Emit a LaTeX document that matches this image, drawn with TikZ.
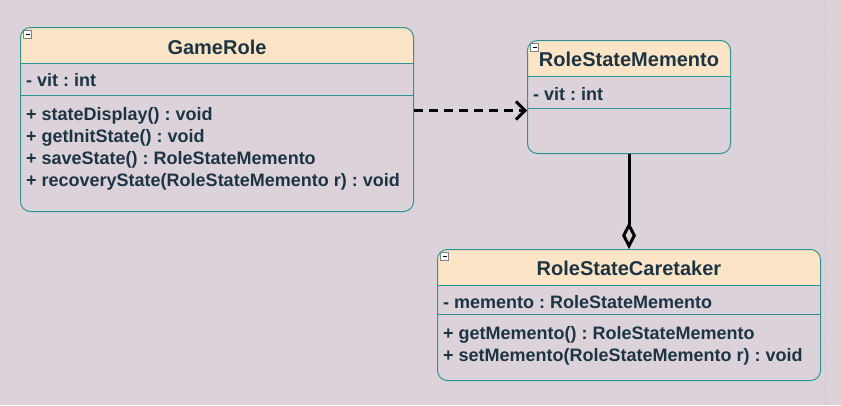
\documentclass[tikz,border=0pt]{standalone}
\usepackage{fontspec}
\setmainfont{Liberation Sans}
\usetikzlibrary{positioning,calc,arrows.meta}
\definecolor{canvas}{HTML}{DCD3DA}
\definecolor{headfill}{HTML}{FCE5C6}
\definecolor{boxline}{HTML}{2E9393}
\definecolor{ink}{HTML}{1D3443}
\frenchspacing

\tikzset{
  classbox/.style 2 args={draw=boxline, line width=1pt, rounded corners=10pt, inner sep=0pt, anchor=north west,
    path picture={
      \fill[headfill, sharp corners] (path picture bounding box.north west) rectangle ([yshift=-#1]path picture bounding box.north east);
      \draw[boxline, sharp corners] ([yshift=-#1]path picture bounding box.north west) -- ([yshift=-#1]path picture bounding box.north east);
      \draw[boxline, sharp corners] ([yshift=-#2]path picture bounding box.north west) -- ([yshift=-#2]path picture bounding box.north east);
      \draw[gray, fill=white, sharp corners, line width=0.6pt] ([xshift=3pt,yshift=-3pt]path picture bounding box.north west) rectangle +(8pt,-8pt);
      \draw[black, line width=1pt] ([xshift=5pt,yshift=-7pt]path picture bounding box.north west) -- +(4pt,0pt);
    }},
  title/.style={font=\bfseries\fontsize{20}{22}\selectfont, text=ink, inner sep=0pt},
  member/.style={font=\bfseries\fontsize{18}{22}\selectfont, text=ink, align=left, anchor=west, inner sep=0pt},
}

\begin{document}
\begin{tikzpicture}[x=1pt,y=-1pt,
    depend/.style={line width=3pt, dash pattern=on 9pt off 6pt, -{Straight Barb[length=9pt,width=18pt]}},
    aggreg/.style={line width=3pt, -{Diamond[open,length=27pt,width=14pt]}}]

  \fill[canvas] (0,0) rectangle (841,405);
  \useasboundingbox (0,0) rectangle (841,405);
  \draw[gray!45, dashed] (825,0) -- (825,405);

  % GameRole
  \node[classbox={36pt}{68pt}, minimum width=393pt, minimum height=184pt] (game) at (20,27) {};
  \node[title] (gameT) at ($(game.north)+(0,20)$) {GameRole};
  \node[member] (gameA) at ($(game.north west)+(6,53)$) {- vit : int};
  \node[member] (gameM) at ($(game.north west)+(6,122)$) {+ stateDisplay() : void\\+ getInitState() : void\\+ saveState() : RoleStateMemento\\+ recoveryState(RoleStateMemento r) : void};

  % RoleStateMemento
  \node[classbox={36pt}{68pt}, minimum width=203pt, minimum height=113pt] (memento) at (527,40) {};
  \node[title] (mementoT) at ($(memento.north)+(0,19)$) {RoleStateMemento};
  \node[member] (mementoA) at ($(memento.north west)+(6,54)$) {- vit : int};

  % RoleStateCaretaker
  \node[classbox={36pt}{65pt}, minimum width=383pt, minimum height=131pt] (care) at (437,249) {};
  \node[title] (careT) at ($(care.north)+(0,19)$) {RoleStateCaretaker};
  \node[member] (careA) at ($(care.north west)+(6,53)$) {- memento : RoleStateMemento};
  \node[member] (careM) at ($(care.north west)+(6,96.5)$) {+ getMemento() : RoleStateMemento\\+ setMemento(RoleStateMemento r) : void};

  \draw[depend] ([yshift=9pt]game.east) -- ([yshift=-13.5pt]memento.west);
  \draw[aggreg] (memento.south) -- (care.north);

\end{tikzpicture}
\end{document}
